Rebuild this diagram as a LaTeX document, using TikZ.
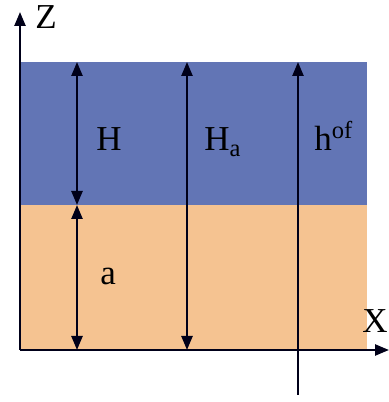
\documentclass[tikz,border=0pt]{standalone}
\usepackage{fontspec}
\setmainfont{Liberation Serif}
\usepackage{tikz}
\usetikzlibrary{arrows.meta,positioning}

\definecolor{airblue}{RGB}{98,117,181}
\definecolor{soilorange}{RGB}{245,195,145}

\tikzset{
  dimline/.style={line width=1.2pt,draw=black!90!blue,{Triangle[length=7pt,width=5.5pt]}-{Triangle[length=7pt,width=5.5pt]}},
  upline/.style={line width=1.2pt,draw=black!90!blue,-{Triangle[length=7pt,width=5.5pt]}},
  lbl/.style={inner sep=0pt,anchor=base west,font=\fontsize{17.5}{20}\selectfont}
}

\begin{document}
\begin{tikzpicture}[x=0.5pt,y=0.5pt]
  \useasboundingbox (0,0) rectangle (389,402);
  % layers
  \fill[soilorange] (20,52) rectangle (367,197);
  \fill[airblue] (20,197) rectangle (367,340);
  % points
  \coordinate (O) at (20,52);
  \coordinate (Ztip) at (20,390);
  \coordinate (Xtip) at (389,52);
  \coordinate (Htop) at (77,340);
  \coordinate (Hmid) at (77,197);
  \coordinate (Hbot) at (77,52);
  \coordinate (Hatop) at (187,340);
  \coordinate (Habot) at (187,52);
  \coordinate (htop) at (298,340);
  \coordinate (hbot) at (298,7);
  % axes
  \draw[upline] (O) -- (Ztip);
  \draw[upline] (O) -- (Xtip);
  % dimensions
  \draw[dimline] (Hmid) -- (Htop);
  \draw[dimline] (Hbot) -- (Hmid);
  \draw[dimline] (Habot) -- (Hatop);
  \draw[upline] (hbot) -- (htop);
  % labels
  \node[lbl] (Z) at (35,373) {Z};
  \node[lbl,anchor=base east] (X) at (388,69) {X};
  \node[lbl] (H) at (96,251) {H};
  \node[lbl] (Ha) at (204,251) {H\textsubscript{a}};
  \node[lbl] (hof) at (314,251) {h\textsuperscript{of}};
  \node[lbl] (a) at (100,117) {a};
\end{tikzpicture}
\end{document}
